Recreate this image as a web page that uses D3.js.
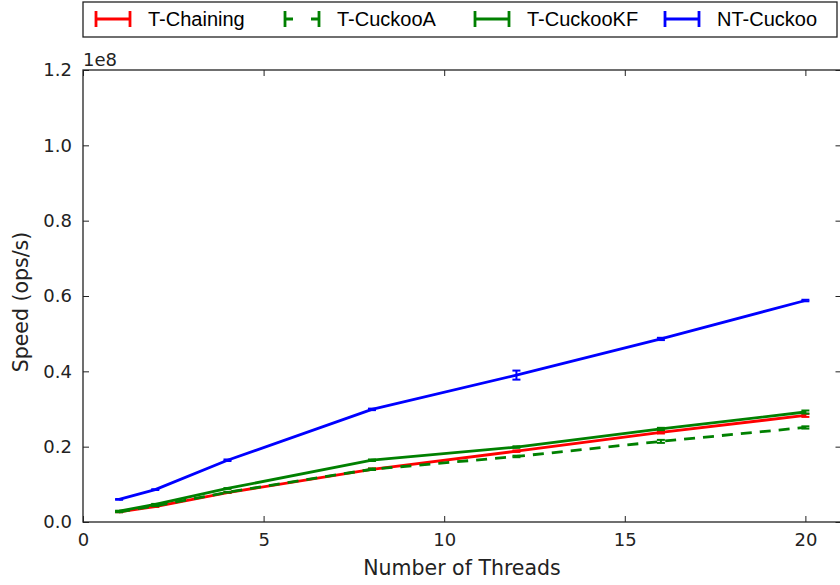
<!DOCTYPE html>
<html>
<head>
<meta charset="utf-8">
<script src="https://cdn.jsdelivr.net/npm/d3@7/dist/d3.min.js"></script>
<style>
  html, body { margin: 0; padding: 0; background: #fff; }
  svg { display: block; }
</style>
</head>
<body>
<svg id="chart" width="840" height="585"></svg>
<script>
// Thread counts used in the benchmark
const threads = [1, 2, 4, 8, 12, 16, 20];

// Mean throughput (ops/s) per table implementation
const tChaining = [2.7e6, 4.1e6, 7.8e6, 14.0e6, 18.8e6, 23.8e6, 28.3e6];
const tCuckooA  = [2.7e6, 4.3e6, 7.9e6, 14.0e6, 17.4e6, 21.4e6, 25.1e6];
const tCuckooKF = [2.9e6, 4.7e6, 8.9e6, 16.4e6, 19.9e6, 24.7e6, 29.2e6];
const ntCuckoo  = [6.0e6, 8.6e6, 16.4e6, 29.9e6, 39.0e6, 48.6e6, 58.8e6];

// Standard deviation (ops/s) for the error bars
const tChainingErr = [0.1e6, 0.1e6, 0.1e6, 0.2e6, 0.2e6, 0.3e6, 0.4e6];
const tCuckooAErr  = [0.1e6, 0.1e6, 0.1e6, 0.2e6, 0.2e6, 0.4e6, 0.3e6];
const tCuckooKFErr = [0.1e6, 0.1e6, 0.1e6, 0.2e6, 0.2e6, 0.3e6, 0.4e6];
const ntCuckooErr  = [0.1e6, 0.1e6, 0.2e6, 0.2e6, 1.2e6, 0.3e6, 0.2e6];

// Axis ticks
const xTicks = [0, 5, 10, 15, 20];
const yTicks = [0, 0.2e8, 0.4e8, 0.6e8, 0.8e8, 1.0e8, 1.2e8];

const seriesNames = ["T-Chaining", "T-CuckooA", "T-CuckooKF", "NT-Cuckoo"];
const seriesValues = [tChaining, tCuckooA, tCuckooKF, ntCuckoo];
const seriesErrors = [tChainingErr, tCuckooAErr, tCuckooKFErr, ntCuckooErr];
const seriesColors = ["#ff0000", "#008000", "#008000", "#0000ff"];
const seriesDash   = [null, "11,8", null, null];

const series = seriesNames.map((name, i) => ({
  name,
  color: seriesColors[i],
  dash: seriesDash[i],
  points: threads.map((t, j) => ({ x: t, y: seriesValues[i][j], e: seriesErrors[i][j] }))
}));

const svg = d3.select("#chart");
const plotLeft = 83, plotRight = 841.5, plotTop = 70, plotBottom = 522;

const x = d3.scaleLinear().domain([0, 21]).range([plotLeft, plotRight]);
const y = d3.scaleLinear().domain([0, 1.2e8]).range([plotBottom, plotTop]);

const fontTick = "DejaVu Sans, sans-serif";

// Data lines with error bars
const line = d3.line().x(d => x(d.x)).y(d => y(d.y));
const plot = svg.append("g");
series.forEach(s => {
  plot.append("path")
    .datum(s.points)
    .attr("d", line)
    .attr("fill", "none")
    .attr("stroke", s.color)
    .attr("stroke-width", 2.8)
    .attr("stroke-dasharray", s.dash)
    .attr("stroke-linejoin", "round");
  const eb = plot.append("g").attr("stroke", s.color).attr("stroke-width", 2);
  s.points.forEach(p => {
    const cx = x(p.x), y0 = y(p.y - p.e), y1 = y(p.y + p.e);
    eb.append("line").attr("x1", cx).attr("x2", cx).attr("y1", y0).attr("y2", y1);
    eb.append("line").attr("x1", cx - 4).attr("x2", cx + 4).attr("y1", y0).attr("y2", y0);
    eb.append("line").attr("x1", cx - 4).attr("x2", cx + 4).attr("y1", y1).attr("y2", y1);
  });
});

// Axes: ticks point inward on all four sides
const tickLen = 6;
const gx = svg.append("g").attr("transform", `translate(0,${plotBottom})`)
  .call(d3.axisBottom(x).tickValues(xTicks).tickSize(-tickLen).tickPadding(11).tickFormat(d3.format("d")));
const gxTop = svg.append("g").attr("transform", `translate(0,${plotTop})`)
  .call(d3.axisTop(x).tickValues(xTicks).tickSize(-tickLen).tickFormat(""));
const gy = svg.append("g").attr("transform", `translate(${plotLeft},0)`)
  .call(d3.axisLeft(y).tickValues(yTicks).tickSize(-tickLen).tickPadding(11).tickFormat(d => (d / 1e8).toFixed(1)));
const gyRight = svg.append("g").attr("transform", `translate(${plotRight},0)`)
  .call(d3.axisRight(y).tickValues(yTicks).tickSize(-tickLen).tickFormat(""));

[gx, gxTop, gy, gyRight].forEach(g => {
  g.select(".domain").remove();
  g.selectAll(".tick line").attr("stroke", "#222").attr("stroke-width", 1);
  g.selectAll(".tick text").attr("font-size", 18).attr("fill", "#222").attr("font-family", fontTick);
});

// Frame
svg.append("rect")
  .attr("x", plotLeft).attr("y", plotTop)
  .attr("width", plotRight - plotLeft).attr("height", plotBottom - plotTop)
  .attr("fill", "none").attr("stroke", "#222").attr("stroke-width", 1.3);

// Offset multiplier
svg.append("text")
  .attr("x", plotLeft).attr("y", 66)
  .attr("font-family", fontTick).attr("font-size", 18).attr("fill", "#222")
  .text("1e8");

// Axis titles
svg.append("text")
  .attr("x", 462).attr("y", 575)
  .attr("text-anchor", "middle")
  .attr("font-family", fontTick).attr("font-size", 20.5).attr("fill", "#222")
  .text("Number of Threads");

svg.append("text")
  .attr("transform", `translate(28,${(plotTop + plotBottom) / 2 + 6}) rotate(-90)`)
  .attr("text-anchor", "middle")
  .attr("font-family", fontTick).attr("font-size", 20.5).attr("fill", "#222")
  .text("Speed (ops/s)");

// Legend
const legend = svg.append("g");
legend.append("rect")
  .attr("x", 83).attr("y", 2).attr("width", 754).attr("height", 35)
  .attr("fill", "#fff").attr("stroke", "#222").attr("stroke-width", 1.3);
const legendX = [96, 285, 475, 665];
series.forEach((s, i) => {
  const g = legend.append("g").attr("transform", `translate(${legendX[i]},19)`);
  const w = 34;
  g.append("line").attr("x1", 0).attr("x2", w).attr("y1", 0).attr("y2", 0)
    .attr("stroke", s.color).attr("stroke-width", 2.8).attr("stroke-dasharray", s.dash ? "8,18" : null);
  [0, w].forEach(px => {
    g.append("line").attr("x1", px).attr("x2", px).attr("y1", -8).attr("y2", 8)
      .attr("stroke", s.color).attr("stroke-width", 2.8);
  });
  g.append("text")
    .attr("x", 52).attr("y", 7)
    .attr("font-family", "Liberation Sans, Arial, sans-serif").attr("font-size", 20)
    .attr("fill", "#000")
    .text(s.name);
});
</script>
</body>
</html>
